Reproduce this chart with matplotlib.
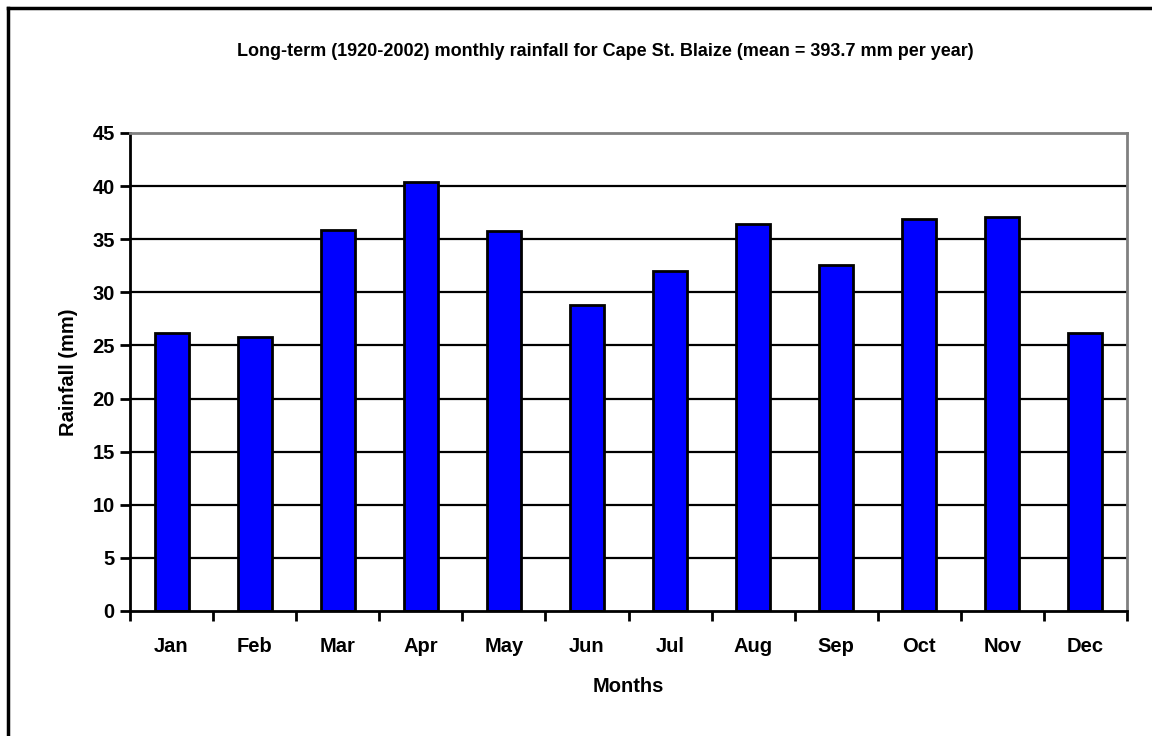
import matplotlib
matplotlib.use('Agg')
import matplotlib.pyplot as plt
from matplotlib.lines import Line2D
import numpy as np

plt.rcParams['font.family'] = ['Liberation Sans', 'DejaVu Sans']
plt.rcParams['font.weight'] = 'bold'

months = ['Jan', 'Feb', 'Mar', 'Apr', 'May', 'Jun',
          'Jul', 'Aug', 'Sep', 'Oct', 'Nov', 'Dec']
rainfall = [26.2, 25.8, 35.9, 40.4, 35.8, 28.8,
            32.0, 36.4, 32.6, 36.9, 37.1, 26.2]
yticks = list(range(0, 46, 5))

W, H = 1152, 736
fig = plt.figure(figsize=(W / 100, H / 100), dpi=100)
ax = fig.add_axes([130 / W, 1 - 611 / H, (1127 - 130) / W, (611 - 133) / H])

x = np.arange(len(months))
ax.bar(x, rainfall, width=0.41, color='#0000FF', edgecolor='black',
       linewidth=2, zorder=3)

ax.set_xlim(-0.5, len(months) - 0.5)
ax.set_ylim(0, 45)
ax.set_yticks(yticks)
ax.set_yticklabels([str(t) for t in yticks], fontsize=14.5, fontweight='bold')
ax.set_xticks(x)
ax.set_xticklabels(months, fontsize=14.5, fontweight='bold')
ax.set_xticks(np.arange(-0.5, len(months)), minor=True)
ax.tick_params(axis='x', which='major', length=0, pad=19)
ax.tick_params(axis='x', which='minor', length=7, width=2, direction='out')
ax.tick_params(axis='y', length=7, width=2, direction='out', pad=4)

# gridlines (the top one is the grey frame)
for t in yticks[1:-1]:
    ax.axhline(t, color='black', linewidth=1.6, zorder=1)

for side in ['left', 'bottom']:
    ax.spines[side].set_color('black')
    ax.spines[side].set_linewidth(2)
for side in ['top', 'right']:
    ax.spines[side].set_color('#808080')
    ax.spines[side].set_linewidth(2)
ax.spines['bottom'].set_zorder(4)

ax.set_xlabel('Months', fontsize=14.5, fontweight='bold', labelpad=15)
ax.set_ylabel('Rainfall (mm)', fontsize=14.5, fontweight='bold', labelpad=10)

fig.text(605 / W, 1 - 52 / H,
         'Long-term (1920-2002) monthly rainfall for Cape St. Blaize (mean = 393.7 mm per year)',
         ha='center', va='center', fontsize=13, fontweight='bold')

# outer chart border (only left and top visible in the crop)
fig.add_artist(Line2D([8 / W, 8 / W], [0, 1 - 8 / H], color='black', linewidth=2.5))
fig.add_artist(Line2D([8 / W, 1], [1 - 8 / H, 1 - 8 / H], color='black', linewidth=2.5))

fig.savefig('out.png', dpi=100)
